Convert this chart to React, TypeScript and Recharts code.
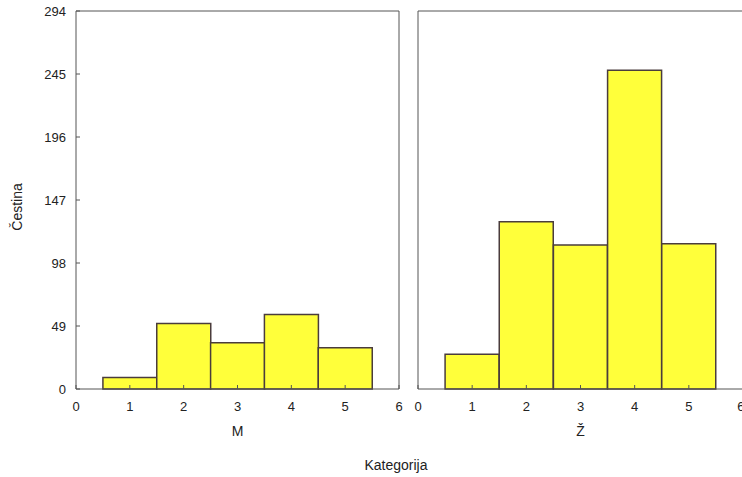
import React from 'react';
import { BarChart, Bar, XAxis, YAxis } from 'recharts';

// histogram counts per category
const categories = [1, 2, 3, 4, 5];
const maleCounts = [9, 51, 36, 58, 32];
const femaleCounts = [27, 130, 112, 248, 113];
const yTicks = [0, 49, 98, 147, 196, 245, 294];
const xTicks = [0, 1, 2, 3, 4, 5, 6];

const maleData = categories.map((c, i) => ({ x: c, v: maleCounts[i] }));
const femaleData = categories.map((c, i) => ({ x: c, v: femaleCounts[i] }));

const FONT = '"Liberation Sans", Arial, sans-serif';
const TEXT = '#222';
const FRAME = '#555';
const tickStyle = { fill: TEXT, fontSize: 13, fontFamily: FONT };

interface PanelProps {
  data: { x: number; v: number }[];
  label: string;
  showY: boolean;
  width: number;
  margin: { top: number; right: number; left: number; bottom: number };
}

const Panel: React.FC<PanelProps> = ({ data, label, showY, width, margin }) => (
  <BarChart width={width} height={477} data={data} margin={margin} barCategoryGap={0}>
    <XAxis
      xAxisId="bottom"
      dataKey="x"
      type="number"
      domain={[0, 6]}
      ticks={xTicks}
      height={88}
      stroke={FRAME}
      tickSize={-4}
      tickMargin={17}
      tick={tickStyle}
      label={{ value: label, position: 'insideTop', offset: 37, fill: TEXT, fontSize: 14, fontFamily: FONT }}
    />
    <XAxis
      xAxisId="top"
      orientation="top"
      dataKey="x"
      type="number"
      domain={[0, 6]}
      ticks={xTicks}
      height={1}
      stroke={FRAME}
      tickSize={-4}
      tick={false}
    />
    <YAxis
      yAxisId="left"
      type="number"
      domain={[0, 294]}
      ticks={yTicks}
      width={showY ? 76 : 1}
      stroke={FRAME}
      tickSize={-4}
      tickMargin={14}
      tick={showY ? tickStyle : false}
    />
    <YAxis
      yAxisId="right"
      orientation="right"
      type="number"
      domain={[0, 294]}
      ticks={yTicks}
      width={1}
      stroke={FRAME}
      tickSize={-4}
      tick={false}
    />
    <Bar
      xAxisId="bottom"
      yAxisId="left"
      dataKey="v"
      fill="#ffff3a"
      stroke="#4a3c3c"
      strokeWidth={1.5}
      isAnimationActive={false}
    />
  </BarChart>
);

export default function App() {
  return (
    <div style={{ position: 'fixed', left: 0, top: 0, width: 742, height: 477, background: '#fff', overflow: 'hidden' }}>
      <div style={{ position: 'absolute', left: 0, top: 0 }}>
        <Panel data={maleData} label="M" showY width={410} margin={{ top: 10, right: 10, left: 0, bottom: 0 }} />
      </div>
      <div style={{ position: 'absolute', left: 404, top: 0 }}>
        <Panel data={femaleData} label="Ž" showY={false} width={340} margin={{ top: 10, right: 0, left: 13, bottom: 0 }} />
      </div>
      <svg width={742} height={477} style={{ position: 'absolute', left: 0, top: 0, pointerEvents: 'none' }}>
        <text
          x={17}
          y={207}
          transform="rotate(-90 17 207)"
          textAnchor="middle"
          dominantBaseline="central"
          fill={TEXT}
          fontSize={14}
          fontFamily={FONT}
        >
          Čestina
        </text>
        <text x={396} y={465} textAnchor="middle" dominantBaseline="central" fill={TEXT} fontSize={14} fontFamily={FONT}>
          Kategorija
        </text>
      </svg>
    </div>
  );
}
